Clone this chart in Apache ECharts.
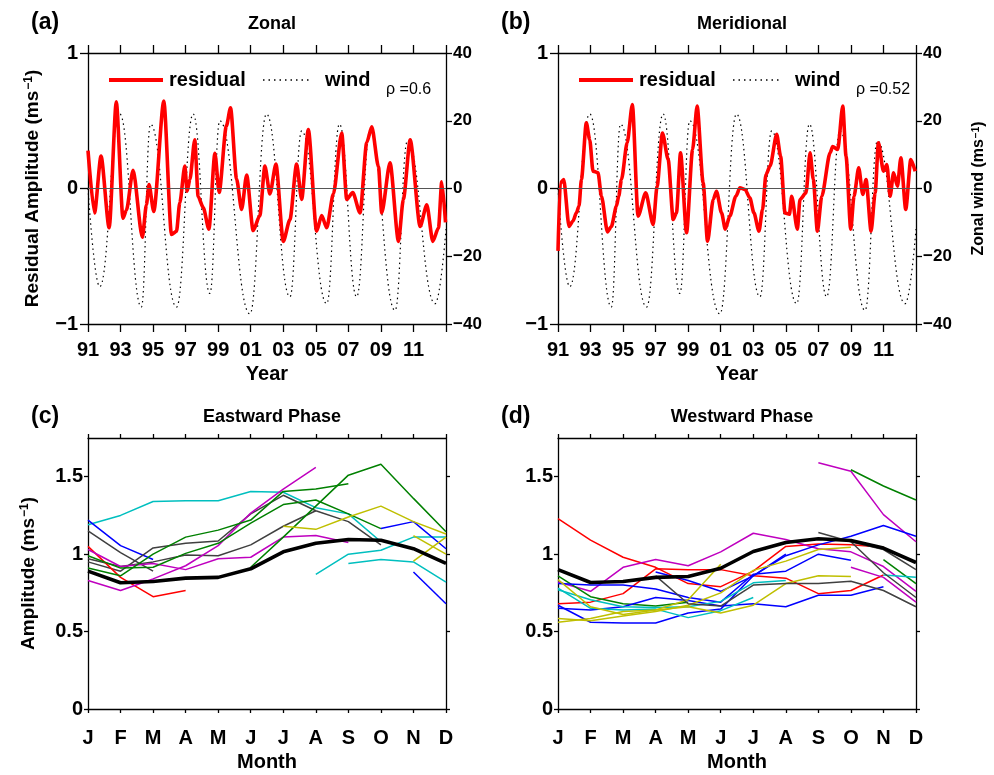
<!DOCTYPE html>
<html>
<head>
<meta charset="utf-8">
<script src="https://cdn.jsdelivr.net/npm/echarts@6/dist/echarts.min.js"></script>
<style>
  html, body { margin: 0; padding: 0; background: #fff; }
  #chart { width: 994px; height: 775px; }
</style>
</head>
<body>
<div id="chart"></div>
<script>
// ---- data ----
// QBO zonal wind (m/s), turning points [year, value]
var windPts = [
  [1991.0, 0], [1991.72, -29], [1992.95, 22], [1994.28, -35], [1994.84, 19],
  [1996.44, -35], [1997.46, 22], [1998.49, -31], [1999.1, 20], [2000.95, -37],
  [2001.97, 22], [2003.41, -32], [2004.13, 17], [2005.67, -34], [2006.45, 19],
  [2007.51, -32], [2008.33, 17], [2009.87, -36], [2010.63, 14], [2012.33, -34],
  [2013.0, -12]
];
// residual amplitude, zonal (a)
var residZonal = [
  [1991.0, 0.28], [1991.4, -0.18], [1991.8, 0.24], [1992.3, -0.29], [1992.74, 0.64],
  [1993.15, -0.22], [1993.36, -0.16], [1993.77, 0.135], [1994.34, -0.36], [1994.59, -0.12],
  [1994.75, 0.03], [1995.04, -0.17], [1995.66, 0.645], [1996.13, -0.34], [1996.44, -0.315],
  [1996.64, -0.105], [1996.95, 0.165], [1997.09, -0.02], [1997.26, 0.066], [1997.56, 0.36],
  [1997.77, -0.06], [1998.08, -0.14], [1998.43, -0.30], [1998.8, 0.26], [1999.06, -0.03],
  [1999.5, 0.46], [1999.76, 0.595], [2000.13, 0.07], [2000.44, -0.155], [2000.75, 0.1],
  [2001.15, -0.31], [2001.56, -0.2], [2001.87, 0.165], [2002.18, -0.04], [2002.55, 0.18],
  [2003.0, -0.39], [2003.41, -0.23], [2003.82, 0.18], [2004.13, -0.08], [2004.54, 0.435],
  [2005.05, -0.315], [2005.36, -0.2], [2005.67, -0.29], [2006.08, -0.04], [2006.59, 0.41],
  [2006.9, -0.08], [2007.27, -0.03], [2007.72, -0.18], [2008.13, 0.34], [2008.44, 0.455],
  [2008.85, 0.16], [2009.05, -0.18], [2009.56, 0.19], [2010.08, -0.39], [2010.38, -0.08],
  [2010.8, 0.36], [2011.41, -0.28], [2011.82, -0.12], [2012.19, -0.39], [2012.54, -0.29],
  [2012.74, 0.05], [2012.97, -0.25]
];
// residual amplitude, meridional (b)
var residMerid = [
  [1991.0, -0.46], [1991.14, 0.04], [1991.35, 0.066], [1991.68, -0.28], [1991.92, -0.24],
  [1992.13, -0.18], [1992.29, -0.13], [1992.44, 0.066], [1992.74, 0.485], [1992.95, 0.36],
  [1993.15, 0.128], [1993.46, 0.116], [1993.67, -0.057], [1994.04, -0.32], [1994.28, -0.28],
  [1994.59, -0.13], [1994.73, -0.057], [1994.9, 0.066], [1995.25, 0.337], [1995.57, 0.62],
  [1995.92, -0.204], [1996.39, -0.032], [1996.85, -0.266], [1997.09, 0.017], [1997.42, 0.41],
  [1997.77, 0.214], [1998.08, -0.229], [1998.28, -0.18], [1998.53, 0.263], [1998.9, -0.327],
  [1999.27, 0.288], [1999.55, 0.608], [1999.92, 0.042], [2000.19, -0.389], [2000.54, -0.081],
  [2000.74, -0.02], [2001.05, -0.18], [2001.28, -0.30], [2001.56, -0.204], [2001.93, -0.057],
  [2002.18, 0.005], [2002.49, -0.007], [2002.79, -0.069], [2003.04, -0.18], [2003.35, -0.315],
  [2003.57, -0.155], [2003.78, 0.103], [2004.03, 0.165], [2004.44, 0.40], [2004.68, 0.238],
  [2004.95, -0.18], [2005.22, -0.19], [2005.36, -0.057], [2005.71, -0.30], [2005.87, -0.081],
  [2006.24, -0.032], [2006.49, 0.263], [2006.69, 0.066], [2006.94, -0.315], [2007.21, -0.057],
  [2007.72, 0.263], [2007.88, 0.31], [2008.19, 0.288], [2008.5, 0.608], [2008.7, 0.239],
  [2008.99, -0.30], [2009.19, -0.057], [2009.48, 0.153], [2009.73, -0.044], [2009.93, 0.066],
  [2010.24, -0.315], [2010.49, -0.032], [2010.69, 0.337], [2011.0, 0.128], [2011.21, 0.177],
  [2011.41, -0.057], [2011.62, 0.116], [2011.86, 0.017], [2012.07, 0.226], [2012.37, -0.155],
  [2012.68, 0.214], [2012.95, 0.128]
];

var months = ['J', 'F', 'M', 'A', 'M', 'J', 'J', 'A', 'S', 'O', 'N', 'D'];
var N = null;

// (c) eastward phase, one entry per year, Jan..Dec
var eastMean = [0.89, 0.815, 0.823, 0.845, 0.85, 0.905, 1.015, 1.07, 1.095, 1.09, 1.035, 0.94];
var eastCyan1 = [1.19, 1.25, 1.34, 1.345, 1.345, 1.405, 1.40, 1.30, 1.26, 1.08, N, N];
var eastCyan2 = [N, N, N, N, N, N, N, 0.87, 1.0, 1.025, 1.11, 1.11];
var eastCyan3 = [N, N, N, N, N, N, N, N, 0.94, 0.965, 0.95, 0.82];
var eastBlue1 = [1.22, 1.055, 0.965, N, N, N, N, N, N, N, N, N];
var eastBlue2 = [N, N, N, N, N, N, N, N, N, 1.165, 1.21, 1.035];
var eastBlue3 = [N, N, N, N, N, N, N, N, N, N, 0.885, 0.68];
var eastGray1 = [1.15, 1.01, 0.89, N, N, N, N, N, N, N, N, N];
var eastGray2 = [0.95, 0.89, 1.04, 1.07, 1.085, 1.26, 1.38, 1.28, 1.21, 1.06, N, N];
var eastGray3 = [0.97, 0.92, 0.95, 0.995, 0.99, 1.06, 1.18, 1.28, N, N, N, N];
var eastRed = [1.05, 0.85, 0.725, 0.765, N, N, N, N, N, N, N, N];
var eastMag1 = [0.83, 0.765, 0.84, 0.925, 1.055, 1.265, 1.42, 1.56, N, N, N, N];
var eastMag2 = [1.03, 0.92, 0.94, 0.90, 0.97, 0.98, 1.11, 1.12, 1.075, N, N, N];
var eastGreen1 = [0.99, 0.91, 0.915, 1.005, 1.07, 1.20, 1.32, 1.35, 1.26, 1.165, N, N];
var eastGreen2 = [0.91, 0.86, 1.00, 1.11, 1.155, 1.22, 1.405, 1.42, 1.455, N, N, N];
var eastGreen3 = [N, N, N, N, N, 0.915, 1.11, 1.31, 1.51, 1.58, 1.36, 1.145];
var eastYel1 = [N, N, N, N, N, N, 1.18, 1.16, 1.24, 1.31, 1.21, 1.13];
var eastYel2 = [N, N, N, N, N, N, N, N, N, N, 1.12, 1.0];
var eastYel3 = [N, N, N, N, N, N, N, N, N, N, 0.955, 1.11];

// (d) westward phase
var westMean = [0.90, 0.817, 0.823, 0.85, 0.856, 0.909, 1.017, 1.075, 1.099, 1.088, 1.039, 0.946];
var westRed1 = [1.23, 1.09, 0.98, 0.915, 0.81, 0.79, 0.89, 1.05, 1.065, 1.06, 1.045, N];
var westRed2 = [0.68, 0.69, 0.745, 0.905, 0.90, 0.90, 0.86, 0.845, 0.745, 0.765, 0.865, N];
var westMag1 = [0.82, 0.76, 0.915, 0.965, 0.925, 1.015, 1.135, 1.095, 1.035, 1.015, 0.92, 0.76];
var westMag2 = [N, N, N, N, N, N, N, N, 1.59, 1.535, 1.255, 1.08];
var westMag3 = [N, N, N, N, N, N, N, N, N, 0.915, 0.85, 0.69];
var westGreen1 = [N, N, N, N, N, N, N, N, N, 1.545, 1.44, 1.35];
var westGreen2 = [N, N, N, N, N, N, N, N, N, N, 0.965, 0.81];
var westGreen3 = [0.86, 0.725, 0.68, 0.665, 0.69, N, N, N, N, N, N, N];
var westBlue1 = [0.81, 0.80, 0.80, 0.775, 0.72, 0.69, 0.87, 0.89, 1.00, 0.96, N, N];
var westBlue2 = [N, N, N, 0.885, 0.83, 0.76, 0.86, 0.99, 1.06, 1.115, 1.185, 1.115];
var westBlue3 = [0.65, 0.64, 0.66, 0.72, 0.70, 0.665, 0.68, 0.66, 0.735, 0.735, 0.79, N];
var westBlue4 = [0.67, 0.56, 0.555, 0.555, 0.62, 0.645, 0.86, 1.00, N, N, N, N];
var westCyan1 = [0.78, 0.65, 0.64, 0.645, 0.59, 0.635, 0.72, N, N, N, N, N];
var westCyan2 = [0.77, 0.705, 0.66, 0.655, 0.66, 0.695, 0.815, 0.83, N, N, N, N];
var westCyan3 = [N, N, N, N, N, N, N, N, N, N, 0.865, 0.85];
var westYel1 = [0.585, 0.57, 0.60, 0.63, 0.67, 0.75, 0.895, 0.955, 1.03, 1.045, N, N];
var westYel2 = [0.56, 0.585, 0.63, 0.64, 0.66, 0.62, 0.67, 0.81, 0.86, 0.855, N, N];
var westYel3 = [0.835, 0.66, 0.61, 0.64, 0.705, 0.935, N, N, N, N, N, N];
var westGray1 = [N, N, N, 0.86, 0.68, 0.665, 0.80, 0.81, 0.81, 0.825, 0.765, 0.66];
var westGray2 = [N, N, N, N, N, N, N, N, 1.14, 1.08, 0.88, 0.72];
var westGray3 = [N, N, N, N, N, N, N, N, N, 1.08, 1.03, 0.90];

// ---- styling ----
var FONT = 'Liberation Sans';
var C = { b: '#0000ff', g: '#008000', r: '#ff0000', c: '#00bfbf', m: '#bf00bf', y: '#bfbf00', k: '#404040' };

var eastLines = [
  [eastCyan1, C.c], [eastCyan2, C.c], [eastCyan3, C.c], [eastBlue1, C.b], [eastBlue2, C.b],
  [eastBlue3, C.b], [eastGray1, C.k], [eastGray2, C.k], [eastGray3, C.k], [eastRed, C.r],
  [eastMag1, C.m], [eastMag2, C.m], [eastGreen1, C.g], [eastGreen2, C.g], [eastGreen3, C.g],
  [eastYel1, C.y], [eastYel2, C.y], [eastYel3, C.y]
];
var westLines = [
  [westRed1, C.r], [westRed2, C.r], [westMag1, C.m], [westMag2, C.m], [westMag3, C.m],
  [westGreen1, C.g], [westGreen2, C.g], [westGreen3, C.g], [westBlue1, C.b], [westBlue2, C.b],
  [westBlue3, C.b], [westBlue4, C.b], [westCyan1, C.c], [westCyan2, C.c], [westCyan3, C.c],
  [westYel1, C.y], [westYel2, C.y], [westYel3, C.y], [westGray1, C.k], [westGray2, C.k], [westGray3, C.k]
];

function toPairs(arr) {
  var out = [];
  arr.forEach(function (v, i) { if (v != null) out.push([i, v]); });
  return out;
}

function boldText(size) {
  return { fontFamily: FONT, fontWeight: 'bold', fontSize: size, color: '#000' };
}

// axis title with a superscript -1
function supName(txt, size) {
  return {
    name: '{n|' + txt + ' (ms}{s|−1}{n|)}',
    rich: {
      n: boldText(size),
      s: { fontFamily: FONT, fontWeight: 'bold', fontSize: Math.round(size * 0.62), color: '#000', verticalAlign: 'top', padding: [0, 0, 0, 1] }
    }
  };
}

var lineSt = { color: '#000', width: 1.3 };
var minus = function (v) { return String(v).replace('-', '−'); };

var grids = [
  { left: 88, top: 53, width: 358, height: 271 },
  { left: 558, top: 53, width: 358, height: 271 },
  { left: 88, top: 438, width: 358, height: 271 },
  { left: 558, top: 438, width: 358, height: 271 }
];

var xAxes = [], yAxes = [];
// top row: years, residual on the left, wind on the right
[0, 1].forEach(function (g) {
  xAxes.push({
    gridIndex: g, type: 'value', min: 1991, max: 2013, interval: 2, position: 'bottom',
    axisLine: { onZero: false, lineStyle: lineSt },
    axisTick: { length: 8, lineStyle: lineSt },
    axisLabel: Object.assign(boldText(20), { margin: 16, formatter: function (v) { return v >= 2013 ? '' : String(v % 100).padStart(2, '0'); } }),
    splitLine: { show: false },
    name: 'Year', nameLocation: 'middle', nameGap: 40, nameTextStyle: boldText(20)
  });
  xAxes.push({
    gridIndex: g, type: 'value', min: 1991, max: 2013, interval: 2, position: 'top',
    axisLine: { onZero: false, lineStyle: lineSt },
    axisTick: { length: 8, lineStyle: lineSt },
    axisLabel: { show: false }, splitLine: { show: false }
  });
  var yl = supName('Residual Amplitude', 19);
  yAxes.push({
    gridIndex: g, type: 'value', min: -1, max: 1, interval: 1, position: 'left',
    axisLine: { show: true, onZero: false, lineStyle: lineSt },
    axisTick: { show: true, length: 8, lineStyle: lineSt },
    axisLabel: Object.assign(boldText(20), { margin: 10, formatter: minus }),
    splitLine: { show: false },
    name: g === 0 ? yl.name : '', nameLocation: 'middle', nameGap: 46,
    nameTextStyle: Object.assign(boldText(19), { rich: yl.rich })
  });
  var yr = supName('Zonal wind', 16);
  yAxes.push({
    gridIndex: g, type: 'value', min: -40, max: 40, interval: 20, position: 'right',
    axisLine: { show: true, onZero: false, lineStyle: lineSt },
    axisTick: { show: true, length: 6, lineStyle: lineSt },
    axisLabel: Object.assign(boldText(17), { margin: 7, formatter: minus }),
    splitLine: { show: false },
    name: g === 1 ? yr.name : '', nameLocation: 'middle', nameGap: 55,
    nameTextStyle: Object.assign(boldText(16), { rich: yr.rich })
  });
});
// bottom row: months
[2, 3].forEach(function (g) {
  xAxes.push({
    gridIndex: g, type: 'value', min: 0, max: 11, interval: 1, position: 'bottom',
    axisLine: { onZero: false, lineStyle: lineSt },
    axisTick: { length: 4, lineStyle: lineSt },
    axisLabel: Object.assign(boldText(20), { margin: 19, formatter: function (v) { return months[v]; } }),
    splitLine: { show: false },
    name: 'Month', nameLocation: 'middle', nameGap: 43, nameTextStyle: boldText(20)
  });
  xAxes.push({
    gridIndex: g, type: 'value', min: 0, max: 11, interval: 1, position: 'top',
    axisLine: { onZero: false, lineStyle: lineSt },
    axisTick: { length: 4, lineStyle: lineSt },
    axisLabel: { show: false }, splitLine: { show: false }
  });
  var al = supName('Amplitude', 19);
  yAxes.push({
    gridIndex: g, type: 'value', min: 0, max: 1.75, position: 'left',
    axisLine: { show: true, onZero: false, lineStyle: lineSt },
    axisTick: { show: true, length: 4, lineStyle: lineSt, customValues: [0, 0.5, 1, 1.5] },
    axisLabel: Object.assign(boldText(20), { margin: 5, customValues: [0, 0.5, 1, 1.5] }),
    splitLine: { show: false },
    name: g === 2 ? al.name : '', nameLocation: 'middle', nameGap: 50,
    nameTextStyle: Object.assign(boldText(19), { rich: al.rich })
  });
  yAxes.push({
    gridIndex: g, type: 'value', min: 0, max: 1.75, position: 'right',
    axisLine: { show: true, onZero: false, lineStyle: lineSt },
    axisTick: { show: true, length: 4, lineStyle: lineSt, customValues: [0, 0.5, 1, 1.5] },
    axisLabel: { show: false }, splitLine: { show: false }
  });
});

var series = [];
[[0, residZonal], [1, residMerid]].forEach(function (p) {
  var g = p[0];
  series.push({
    type: 'line', xAxisIndex: g * 2, yAxisIndex: g * 2 + 1, data: windPts,
    smooth: 0.45, smoothMonotone: 'x',
    symbol: 'none', silent: true, z: 2,
    lineStyle: { color: '#000', width: 1.2, type: [1.5, 3.5] }
  });
  series.push({
    type: 'line', xAxisIndex: g * 2, yAxisIndex: g * 2, data: p[1],
    smooth: 0.25, smoothMonotone: 'x',
    symbol: 'none', silent: true, z: 3,
    lineStyle: { color: '#ff0000', width: 3.6 },
    markLine: {
      silent: true, symbol: 'none', label: { show: false },
      lineStyle: { color: '#555', width: 1, type: 'solid' },
      data: [{ yAxis: 0 }]
    }
  });
});
[[2, eastLines, eastMean], [3, westLines, westMean]].forEach(function (p) {
  var g = p[0];
  p[1].forEach(function (l) {
    series.push({
      type: 'line', xAxisIndex: g * 2, yAxisIndex: g * 2, data: toPairs(l[0]),
      symbol: 'none', silent: true, z: 2, lineStyle: { color: l[1], width: 1.5 }
    });
  });
  series.push({
    type: 'line', xAxisIndex: g * 2, yAxisIndex: g * 2, data: toPairs(p[2]),
    symbol: 'none', silent: true, z: 4, lineStyle: { color: '#000', width: 3.6 }
  });
});

function tTitle(text, x, y, size, align) {
  return { text: text, left: x, top: y, textAlign: align || 'left', textStyle: boldText(size) };
}

// in-plot legend of the top panels
function legendGraphics(dx, rho) {
  return [
    { type: 'line', shape: { x1: 109 + dx, y1: 80, x2: 163 + dx, y2: 80 }, style: { stroke: '#ff0000', lineWidth: 4 } },
    { type: 'text', x: 169 + dx, y: 80, style: { text: 'residual', font: 'bold 20px ' + FONT, fill: '#000', verticalAlign: 'middle' } },
    { type: 'line', shape: { x1: 263 + dx, y1: 80, x2: 310 + dx, y2: 80 }, style: { stroke: '#000', lineWidth: 1.3, lineDash: [1.5, 4] } },
    { type: 'text', x: 325 + dx, y: 80, style: { text: 'wind', font: 'bold 20px ' + FONT, fill: '#000', verticalAlign: 'middle' } },
    { type: 'text', x: 386 + dx, y: 90, style: { text: 'ρ =' + rho, font: '16px ' + FONT, fill: '#000', verticalAlign: 'middle' } }
  ];
}

var chart = echarts.init(document.getElementById('chart'), null, { renderer: 'canvas' });
chart.setOption({
  backgroundColor: '#fff',
  animation: false,
  title: [
    tTitle('(a)', 26, 6, 23), tTitle('Zonal', 267, 10, 18, 'center'),
    tTitle('(b)', 496, 6, 23), tTitle('Meridional', 737, 10, 18, 'center'),
    tTitle('(c)', 26, 400, 23), tTitle('Eastward Phase', 267, 403, 18, 'center'),
    tTitle('(d)', 496, 400, 23), tTitle('Westward Phase', 737, 403, 18, 'center')
  ],
  grid: grids,
  xAxis: xAxes,
  yAxis: yAxes,
  series: series,
  graphic: legendGraphics(0, '0.6').concat(legendGraphics(470, '0.52'))
});
</script>
</body>
</html>
